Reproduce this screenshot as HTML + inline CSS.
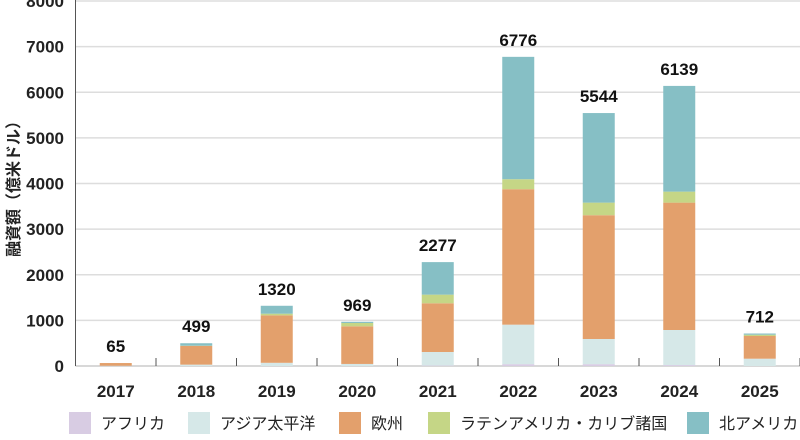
<!DOCTYPE html>
<html><head><meta charset="utf-8"><style>
body{margin:0;background:#fff;width:800px;height:435px;overflow:hidden;font-family:"Liberation Sans","Noto Sans CJK JP",sans-serif}
</style></head><body>
<svg id="chart" width="800" height="435" xmlns="http://www.w3.org/2000/svg" font-family="Liberation Sans, Noto Sans CJK JP, sans-serif"></svg>
<script>
const categories=["2017","2018","2019","2020","2021","2022","2023","2024","2025"];
const africa=[0,0,0,0,10,40,40,20,0];
const asiaPacific=[5,30,70,45,297,866,552,769,160];
const europe=[60,410,1040,825,1068,2969,2713,2792,498];
const latinAmerica=[0,5,37,73,189,219,276,241,28];
const northAmerica=[0,54,173,26,713,2682,1963,2317,26];
const totals=[65,499,1320,969,2277,6776,5544,6139,712];
const yTicks=[0,1000,2000,3000,4000,5000,6000,7000,8000];
const seriesNames=["アフリカ","アジア太平洋","欧州","ラテンアメリカ・カリブ諸国","北アメリカ"];
const seriesData=[africa,asiaPacific,europe,latinAmerica,northAmerica];
const colors=["#d8cce3","#d6e8e8","#e3a06c","#c5d686","#86bfc5"];
const ns="http://www.w3.org/2000/svg",svg=document.getElementById('chart');
const X0=75.5,SLOT=80.5,Y0=366,YMAX=8000,H=365,BW=32;
const y=v=>Y0-v/YMAX*H;
const xc=i=>X0+SLOT*(i+0.5);
function mk(t,a,p){const e=document.createElementNS(ns,t);for(const k in a)e.setAttribute(k,a[k]);(p||svg).appendChild(e);return e;}
yTicks.forEach(v=>{
 const g=mk('line',{x1:X0,x2:800,y1:y(v),y2:y(v),stroke:v===0?'#ccc':'#ddd','stroke-width':1.5});
 
 
 const t=mk('text',{x:64,y:y(v)+6,'text-anchor':'end','font-size':17,'font-weight':'bold',fill:'#222'});
 t.textContent=v;
 
 
});
const ax=mk('line',{x1:X0,x2:X0,y1:0,y2:Y0,stroke:'#555','stroke-width':1});


for(let i=1;i<=categories.length;i++){
 const tk=mk('line',{x1:X0+SLOT*i,x2:X0+SLOT*i,y1:Y0-8,y2:Y0,stroke:'#555','stroke-width':1});
 
 
}
categories.forEach((c,i)=>{
 let acc=0;
 seriesData.forEach((s,j)=>{
  const v=s[i]; if(v<=0)return;
  const r=mk('rect',{x:xc(i)-BW/2,y:y(acc+v),width:BW,height:y(acc)-y(acc+v),fill:colors[j]});
  
  
  acc+=v;
 });
 const lab=mk('text',{x:xc(i),y:y(totals[i])-11,'text-anchor':'middle','font-size':17,'font-weight':'bold',fill:'#111'});
 lab.textContent=totals[i];
 
 
 const xl=mk('text',{x:xc(i),y:397,'text-anchor':'middle','font-size':17,'font-weight':'bold',fill:'#222'});
 xl.textContent=c;
 
 
});
const yt=mk('text',{transform:'translate(19,185) rotate(-90)','text-anchor':'middle','font-size':16,'font-weight':'bold',fill:'#222'});
yt.textContent='融資額（億米ドル）';


const lx=[69,188,339,428,687];
seriesNames.forEach((n,j)=>{
 const g=mk('g',{});
 
 
 mk('rect',{x:lx[j],y:412,width:22,height:22,fill:colors[j]},g);
 const t=mk('text',{x:lx[j]+32,y:429,'font-size':16,fill:'#222'},g);
 t.textContent=n;
});
</script>
</body></html>
